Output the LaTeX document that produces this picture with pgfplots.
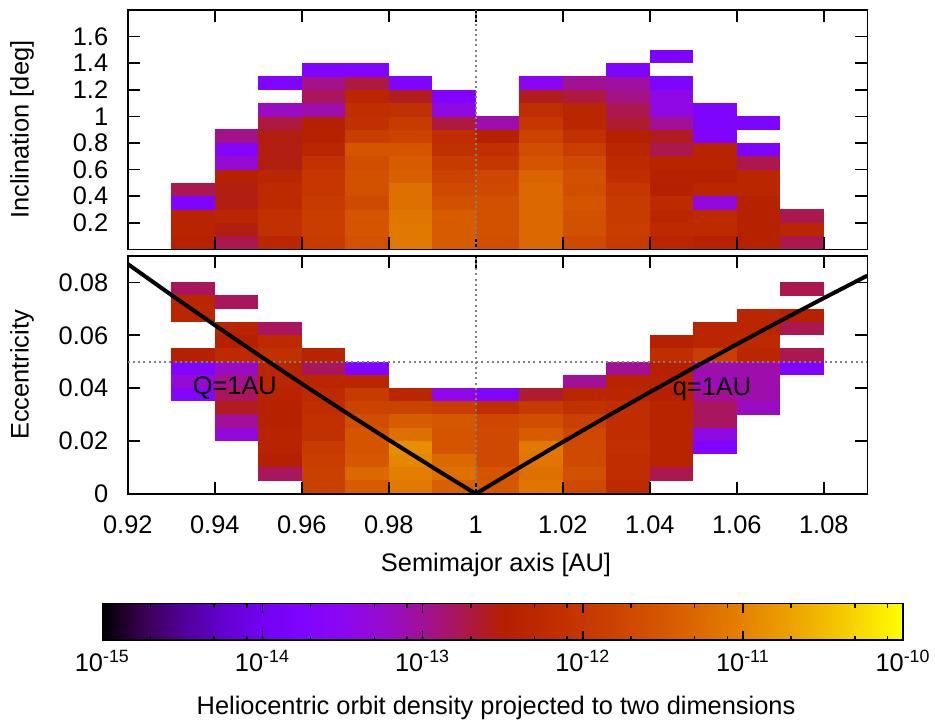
\documentclass[border=0pt]{standalone}
\usepackage{fontspec}
\setmainfont{Liberation Sans}
\usepackage{pgfplots}
\usepackage{pgfplotstable}
\pgfplotsset{compat=1.18}

\newcommand{\lf}{\fontsize{12.7}{15}\selectfont}

% cell marks (size matched to 0.01 AU x 0.1 deg / 0.005 ecc)
\pgfdeclareplotmark{cellT}{\pgfpathrectangle{\pgfpoint{-10.95pt}{-3.40pt}}{\pgfpoint{21.9pt}{6.8pt}}\pgfusepathqfill}
\pgfdeclareplotmark{cellB}{\pgfpathrectangle{\pgfpoint{-10.95pt}{-3.38pt}}{\pgfpoint{21.9pt}{6.76pt}}\pgfusepathqfill}

\pgfplotsset{
  colormap={gp}{rgb=(0,0,0) rgb=(0.2236,0.0001,0.309) rgb=(0.3162,0.001,0.5878)
    rgb=(0.3873,0.0034,0.809) rgb=(0.4472,0.008,0.9511) rgb=(0.5,0.0156,1)
    rgb=(0.5477,0.027,0.9511) rgb=(0.5916,0.0429,0.809) rgb=(0.6325,0.064,0.5878)
    rgb=(0.6708,0.0911,0.309) rgb=(0.7071,0.125,0) rgb=(0.7416,0.1664,0)
    rgb=(0.7746,0.216,0) rgb=(0.8062,0.2746,0) rgb=(0.8367,0.343,0)
    rgb=(0.866,0.4219,0) rgb=(0.8944,0.512,0) rgb=(0.922,0.6141,0)
    rgb=(0.9487,0.729,0) rgb=(0.9747,0.8574,0) rgb=(1,1,0)},
  hmframe/.style={scale only axis, width=369.75pt, xmin=0.92, xmax=1.09,
    tick align=inside, xtick pos=both, ytick pos=both,
    xticklabel pos=lower, yticklabel pos=left,
    major tick length=6pt,
    axis line style={line width=0.8pt},
    every tick/.style={black, line width=0.8pt},
    xtick={0.92,0.94,0.96,0.98,1,1.02,1.04,1.06,1.08},
    tick label style={font=\lf},
    yticklabel style={xshift=-6.3pt},
    /pgf/number format/assume math mode=true,
    scaled ticks=false},
  hmcells/.style={scale only axis, width=369.75pt, xmin=0.92, xmax=1.09,
    hide axis, point meta min=-15, point meta max=-10, colormap name=gp},
}

% log10 of density, inclination panel: a  i  log10(rho)
\pgfplotstableread{
a i v
0.935 0.05 -12.45
0.935 0.15 -12.40
0.935 0.25 -12.40
0.935 0.35 -13.75
0.935 0.45 -12.75
0.945 0.05 -12.75
0.945 0.15 -12.55
0.945 0.25 -12.35
0.945 0.35 -12.55
0.945 0.45 -12.55
0.945 0.55 -12.45
0.945 0.65 -13.30
0.945 0.75 -13.65
0.945 0.85 -12.95
0.955 0.05 -12.35
0.955 0.15 -12.15
0.955 0.25 -12.15
0.955 0.35 -12.25
0.955 0.45 -12.25
0.955 0.55 -12.35
0.955 0.65 -12.55
0.955 0.75 -12.55
0.955 0.85 -12.55
0.955 0.95 -12.70
0.955 1.05 -13.20
0.955 1.25 -13.75
0.965 0.05 -11.95
0.965 0.15 -11.90
0.965 0.25 -11.90
0.965 0.35 -11.95
0.965 0.45 -12.00
0.965 0.55 -12.00
0.965 0.65 -12.10
0.965 0.75 -12.35
0.965 0.85 -12.45
0.965 0.95 -12.50
0.965 1.05 -13.10
0.965 1.15 -12.80
0.965 1.25 -12.95
0.965 1.35 -13.75
0.975 0.05 -11.60
0.975 0.15 -11.55
0.975 0.25 -11.55
0.975 0.35 -11.70
0.975 0.45 -11.60
0.975 0.55 -11.60
0.975 0.65 -11.65
0.975 0.75 -11.55
0.975 0.85 -11.90
0.975 0.95 -12.15
0.975 1.05 -12.20
0.975 1.15 -12.35
0.975 1.25 -12.70
0.975 1.35 -13.75
0.985 0.05 -11.10
0.985 0.15 -11.10
0.985 0.25 -11.15
0.985 0.35 -11.20
0.985 0.45 -11.20
0.985 0.55 -11.40
0.985 0.65 -11.45
0.985 0.75 -11.55
0.985 0.85 -11.80
0.985 0.95 -11.95
0.985 1.05 -12.15
0.985 1.15 -12.60
0.985 1.25 -13.75
0.995 0.05 -11.45
0.995 0.15 -11.45
0.995 0.25 -11.45
0.995 0.35 -11.60
0.995 0.45 -11.70
0.995 0.55 -11.80
0.995 0.65 -11.95
0.995 0.75 -12.15
0.995 0.85 -12.20
0.995 0.95 -12.70
0.995 1.05 -13.40
0.995 1.15 -13.75
1.005 0.05 -11.65
1.005 0.15 -11.60
1.005 0.25 -11.60
1.005 0.35 -11.60
1.005 0.45 -11.70
1.005 0.55 -11.75
1.005 0.65 -12.00
1.005 0.75 -12.15
1.005 0.85 -12.45
1.005 0.95 -13.10
1.015 0.05 -11.30
1.015 0.15 -11.30
1.015 0.25 -11.30
1.015 0.35 -11.30
1.015 0.45 -11.30
1.015 0.55 -11.35
1.015 0.65 -11.55
1.015 0.75 -11.65
1.015 0.85 -11.80
1.015 0.95 -12.00
1.015 1.05 -12.20
1.015 1.15 -12.60
1.015 1.25 -13.55
1.025 0.05 -11.70
1.025 0.15 -11.60
1.025 0.25 -11.60
1.025 0.35 -11.55
1.025 0.45 -11.65
1.025 0.55 -11.60
1.025 0.65 -11.70
1.025 0.75 -11.90
1.025 0.85 -12.15
1.025 0.95 -12.35
1.025 1.05 -12.35
1.025 1.15 -12.70
1.025 1.25 -13.00
1.035 0.05 -11.95
1.035 0.15 -11.90
1.035 0.25 -11.95
1.035 0.35 -11.95
1.035 0.45 -12.00
1.035 0.55 -12.20
1.035 0.65 -12.25
1.035 0.75 -12.35
1.035 0.85 -12.50
1.035 0.95 -12.65
1.035 1.05 -12.75
1.035 1.15 -12.95
1.035 1.25 -13.05
1.035 1.35 -13.80
1.045 0.05 -12.35
1.045 0.15 -12.25
1.045 0.25 -12.35
1.045 0.35 -12.25
1.045 0.45 -12.50
1.045 0.55 -12.45
1.045 0.65 -12.40
1.045 0.75 -12.75
1.045 0.85 -12.60
1.045 0.95 -13.00
1.045 1.05 -13.40
1.045 1.15 -13.40
1.045 1.25 -13.80
1.045 1.45 -13.80
1.055 0.05 -12.45
1.055 0.15 -12.25
1.055 0.25 -12.25
1.055 0.35 -13.35
1.055 0.45 -12.35
1.055 0.55 -12.45
1.055 0.65 -12.40
1.055 0.75 -12.40
1.055 0.85 -13.75
1.055 0.95 -13.80
1.055 1.05 -13.80
1.065 0.05 -12.45
1.065 0.15 -12.45
1.065 0.25 -12.45
1.065 0.35 -12.45
1.065 0.45 -12.35
1.065 0.55 -12.35
1.065 0.65 -12.75
1.065 0.75 -13.80
1.065 0.95 -13.80
1.075 0.05 -12.75
1.075 0.15 -12.35
1.075 0.25 -12.75
}\inctable

% eccentricity panel: a  e  log10(rho)
\pgfplotstableread{
a e v
0.935 0.0775 -12.80
0.935 0.0725 -12.35
0.935 0.0675 -12.35
0.935 0.0525 -12.50
0.935 0.0475 -13.75
0.935 0.0425 -13.30
0.935 0.0375 -13.65
0.945 0.0725 -12.80
0.945 0.0625 -12.40
0.945 0.0575 -12.50
0.945 0.0525 -12.25
0.945 0.0475 -13.20
0.945 0.0425 -12.95
0.945 0.0375 -12.80
0.945 0.0325 -12.60
0.945 0.0275 -13.00
0.945 0.0225 -13.35
0.955 0.0625 -12.80
0.955 0.0575 -12.25
0.955 0.0525 -12.15
0.955 0.0475 -12.35
0.955 0.0425 -12.35
0.955 0.0375 -12.40
0.955 0.0325 -12.45
0.955 0.0275 -12.45
0.955 0.0225 -12.40
0.955 0.0175 -12.40
0.955 0.0125 -12.50
0.955 0.0075 -12.80
0.965 0.0525 -12.40
0.965 0.0475 -12.80
0.965 0.0425 -12.35
0.965 0.0375 -12.25
0.965 0.0325 -12.20
0.965 0.0275 -12.15
0.965 0.0225 -12.15
0.965 0.0175 -11.95
0.965 0.0125 -11.90
0.965 0.0075 -11.85
0.965 0.0025 -11.85
0.975 0.0475 -13.75
0.975 0.0425 -12.35
0.975 0.0375 -11.95
0.975 0.0325 -11.80
0.975 0.0275 -11.65
0.975 0.0225 -11.55
0.975 0.0175 -11.55
0.975 0.0125 -11.50
0.975 0.0075 -11.30
0.975 0.0025 -11.45
0.985 0.0375 -12.35
0.985 0.0325 -11.80
0.985 0.0275 -11.45
0.985 0.0225 -11.20
0.985 0.0175 -10.90
0.985 0.0125 -10.95
0.985 0.0075 -11.05
0.985 0.0025 -11.10
0.995 0.0375 -13.45
0.995 0.0325 -11.90
0.995 0.0275 -11.50
0.995 0.0225 -11.55
0.995 0.0175 -11.55
0.995 0.0125 -11.30
0.995 0.0075 -11.20
0.995 0.0025 -11.40
1.005 0.0375 -13.75
1.005 0.0325 -12.20
1.005 0.0275 -11.75
1.005 0.0225 -11.70
1.005 0.0175 -11.70
1.005 0.0125 -11.70
1.005 0.0075 -11.55
1.005 0.0025 -11.50
1.015 0.0375 -12.65
1.015 0.0325 -11.95
1.015 0.0275 -11.65
1.015 0.0225 -11.45
1.015 0.0175 -11.10
1.015 0.0125 -11.15
1.015 0.0075 -11.20
1.015 0.0025 -11.15
1.025 0.0425 -13.00
1.025 0.0375 -12.35
1.025 0.0325 -12.15
1.025 0.0275 -11.85
1.025 0.0225 -11.75
1.025 0.0175 -11.70
1.025 0.0125 -11.70
1.025 0.0075 -11.60
1.025 0.0025 -11.70
1.035 0.0475 -13.00
1.035 0.0425 -12.40
1.035 0.0375 -12.35
1.035 0.0325 -12.20
1.035 0.0275 -12.20
1.035 0.0225 -12.20
1.035 0.0175 -12.15
1.035 0.0125 -12.20
1.035 0.0075 -12.20
1.035 0.0025 -12.25
1.045 0.0575 -12.45
1.045 0.0525 -12.20
1.045 0.0475 -12.45
1.045 0.0425 -12.40
1.045 0.0375 -12.50
1.045 0.0325 -12.40
1.045 0.0275 -12.40
1.045 0.0225 -12.40
1.045 0.0175 -12.40
1.045 0.0125 -12.40
1.045 0.0075 -12.75
1.055 0.0625 -12.35
1.055 0.0575 -12.35
1.055 0.0525 -11.90
1.055 0.0475 -13.10
1.055 0.0425 -13.15
1.055 0.0375 -13.00
1.055 0.0325 -12.80
1.055 0.0275 -12.80
1.055 0.0225 -13.40
1.055 0.0175 -13.75
1.065 0.0675 -12.35
1.065 0.0625 -12.35
1.065 0.0575 -12.25
1.065 0.0525 -12.35
1.065 0.0475 -13.10
1.065 0.0425 -13.10
1.065 0.0375 -13.10
1.065 0.0325 -13.20
1.075 0.0775 -12.75
1.075 0.0675 -12.45
1.075 0.0625 -12.75
1.075 0.0525 -12.75
1.075 0.0475 -13.80
}\ecctable

\begin{document}
\begin{tikzpicture}
\useasboundingbox (0,0) rectangle (467.5pt,-363.5pt);

% ---------- inclination panel: cells ----------
\begin{axis}[hmcells, at={(63.9pt,-5pt)}, anchor=north west, height=119.65pt,
  ymin=0, ymax=1.8]
\addplot[scatter, only marks, mark=cellT, point meta=explicit,
  scatter/use mapped color={fill=mapped color}]
  table[x index=0, y index=1, meta index=2] {\inctable};
\end{axis}
% ---------- inclination panel: frame and guides ----------
\begin{axis}[hmframe, at={(63.9pt,-5pt)}, anchor=north west, height=119.65pt,
  ymin=0, ymax=1.8,
  ytick={0.2,0.4,0.6,0.8,1,1.2,1.4,1.6},
  yticklabels={0.2,0.4,0.6,0.8,1,1.2,1.4,1.6},
  xticklabels={}]
\addplot[gray, line width=0.9pt, dash pattern=on 1pt off 1.6pt] coordinates {(1,0) (1,1.8)};
\end{axis}

% ---------- eccentricity panel: cells ----------
\begin{axis}[hmcells, at={(63.9pt,-128pt)}, anchor=north west, height=118.9pt,
  ymin=0, ymax=0.09]
\addplot[scatter, only marks, mark=cellB, point meta=explicit,
  scatter/use mapped color={fill=mapped color}]
  table[x index=0, y index=1, meta index=2] {\ecctable};
\end{axis}
% ---------- eccentricity panel: frame and guides ----------
\begin{axis}[hmframe, at={(63.9pt,-128pt)}, anchor=north west, height=118.9pt,
  ymin=0, ymax=0.09,
  ytick={0,0.02,0.04,0.06,0.08},
  yticklabels={0,0.02,0.04,0.06,0.08},
  xticklabels={0.92,0.94,0.96,0.98,1,1.02,1.04,1.06,1.08},
  xticklabel style={yshift=-7.5pt}]
\addplot[gray, line width=0.9pt, dash pattern=on 1pt off 1.6pt] coordinates {(1,0) (1,0.09)};
\addplot[gray, line width=0.9pt, dash pattern=on 1pt off 1.6pt] coordinates {(0.92,0.05) (1.09,0.05)};
\addplot[black, line width=2pt, line join=miter] coordinates {
  (0.92,0.086957) (0.93,0.075269) (0.94,0.063830) (0.95,0.052632)
  (0.96,0.041667) (0.97,0.030928) (0.98,0.020408) (0.99,0.010101) (1,0)
  (1.01,0.009901) (1.02,0.019608) (1.03,0.029126) (1.04,0.038462)
  (1.05,0.047619) (1.06,0.056604) (1.07,0.065421) (1.08,0.074074) (1.09,0.082569)};
\node[font=\lf] at (axis cs:0.9446,0.0400) {Q=1AU};
\node[font=\lf] at (axis cs:1.0543,0.0397) {q=1AU};
\end{axis}

% ---------- colour bar ----------
\begin{axis}[at={(51.15pt,-301.65pt)}, anchor=north west,
  scale only axis, width=400.35pt, height=18.35pt,
  xmin=-15, xmax=-10, ymin=0, ymax=1,
  colormap name=gp, point meta min=-15, point meta max=-10,
  xtick={-15,-14,-13,-12,-11,-10},
  xticklabels={10\textsuperscript{-15},10\textsuperscript{-14},10\textsuperscript{-13},10\textsuperscript{-12},10\textsuperscript{-11},10\textsuperscript{-10}},
  minor xtick={-14.69897,-14.30103,-14.09691,-13.69897,-13.30103,-13.09691,-12.69897,-12.30103,-12.09691,-11.69897,-11.30103,-11.09691,-10.69897,-10.30103,-10.09691},
  xtick pos=both, xticklabel pos=lower, tick align=inside,
  major tick length=4.7pt, minor tick length=2.2pt,
  ytick=\empty,
  axis line style={line width=0.8pt},
  every tick/.style={black, line width=0.8pt},
  axis on top,
  xticklabel style={font=\lf, yshift=-1.5pt}]
\addplot[surf, shader=interp, point meta=x, mesh/rows=2] coordinates {(-15,0) (-10,0) (-15,1) (-10,1)};
\end{axis}

% ---------- axis titles ----------
\node[rotate=90, font=\lf] at (11pt,-64.8pt) {Inclination [deg]};
\node[rotate=90, font=\lf] at (11pt,-187.5pt) {Eccentricity};
\node[font=\lf] at (248pt,-282.5pt) {Semimajor axis [AU]};
\node[font=\lf] at (248pt,-354pt) {Heliocentric orbit density projected to two dimensions};
\end{tikzpicture}
\end{document}
